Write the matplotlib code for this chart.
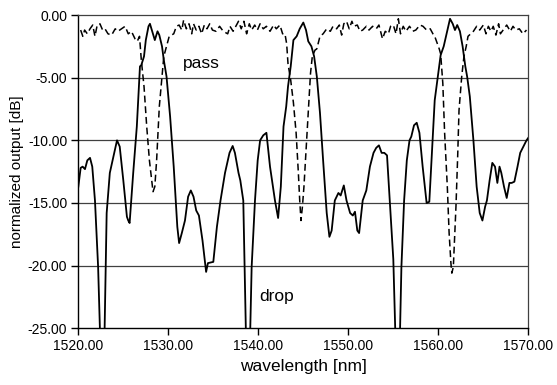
import matplotlib
matplotlib.use("Agg")
import numpy as np
from matplotlib import pyplot as plt
from matplotlib.ticker import FormatStrFormatter

# drop port (solid)
drop_wl = [1520.0, 1520.26, 1520.48, 1520.74, 1521.0, 1521.3, 1521.55, 1521.85, 1522.2, 1522.6,
           1522.8, 1523.15, 1523.5, 1523.9, 1524.3, 1524.6, 1525.0, 1525.4, 1525.55, 1525.7,
           1526.1, 1526.5, 1526.85, 1527.0, 1527.3, 1527.5, 1527.8, 1527.96, 1528.3, 1528.5,
           1528.8, 1529.0, 1529.3, 1529.5, 1529.8, 1530.2, 1530.6, 1531.0, 1531.2, 1531.5,
           1531.85, 1532.2, 1532.5, 1532.8, 1533.1, 1533.4, 1533.8, 1534.2, 1534.4, 1535.0,
           1535.4, 1535.8, 1536.3, 1536.8, 1537.15, 1537.4, 1537.8, 1538.0, 1538.33, 1538.75,
           1538.95, 1539.26, 1539.63, 1539.93, 1540.2, 1540.55, 1540.9, 1541.3, 1541.85, 1542.2,
           1542.5, 1542.8, 1543.1, 1543.3, 1543.6, 1543.9, 1544.26, 1544.6, 1545.0, 1545.3,
           1545.55, 1545.9, 1546.2, 1546.5, 1546.85, 1547.2, 1547.6, 1547.9, 1548.15, 1548.5,
           1548.9, 1549.15, 1549.5, 1549.8, 1550.2, 1550.5, 1550.74, 1551.0, 1551.2, 1551.6,
           1552.0, 1552.4, 1552.8, 1553.1, 1553.4, 1553.7, 1554.0, 1554.3, 1554.6, 1555.0,
           1555.4, 1555.6, 1555.9, 1556.2, 1556.5, 1556.8, 1557.0, 1557.3, 1557.6, 1557.9,
           1558.26, 1558.7, 1559.0, 1559.3, 1559.6, 1560.0, 1560.26, 1560.6, 1560.85, 1561.3,
           1561.6, 1561.85, 1562.1, 1562.4, 1562.7, 1563.0, 1563.2, 1563.5, 1563.9, 1564.26,
           1564.6, 1564.9, 1565.2, 1565.4, 1565.7, 1566.0, 1566.3, 1566.56, 1566.8, 1567.0,
           1567.3, 1567.6, 1567.9, 1568.15, 1568.45, 1568.8, 1569.1, 1569.45, 1569.8, 1570.0]
drop_db = [-13.7, -12.2, -12.1, -12.3, -11.6, -11.4, -12.1, -14.8, -20.1, -30.0,
           -30.0, -15.8, -12.6, -11.3, -10.0, -10.5, -13.2, -16.1, -16.4, -16.6,
           -12.6, -8.9, -4.1, -4.0, -3.3, -2.0, -0.9, -0.7, -1.5, -2.0,
           -1.3, -1.6, -2.5, -3.6, -4.9, -8.1, -12.1, -16.9, -18.2, -17.4,
           -16.4, -14.5, -14.0, -14.5, -15.6, -16.0, -18.0, -20.5, -19.8, -19.7,
           -16.9, -14.8, -12.6, -11.0, -10.45, -11.0, -12.6, -13.2, -14.8, -30.0,
           -30.0, -20.1, -14.8, -11.6, -10.0, -9.6, -9.4, -12.1, -14.8, -16.2,
           -13.7, -8.9, -7.3, -5.7, -4.1, -2.0, -1.7, -1.1, -0.6, -1.2,
           -2.1, -2.5, -3.3, -4.9, -7.8, -11.6, -15.8, -17.7, -17.2, -14.8,
           -14.2, -14.4, -13.6, -14.8, -15.8, -16.0, -15.7, -17.2, -17.4, -14.8,
           -14.0, -12.1, -11.0, -10.6, -10.4, -11.0, -11.0, -11.2, -14.8, -19.5,
           -30.0, -30.0, -20.1, -14.8, -11.6, -10.0, -9.7, -8.8, -8.6, -9.4,
           -12.1, -15.0, -14.9, -10.8, -6.8, -4.65, -3.2, -2.5, -1.7, -0.3,
           -0.7, -1.2, -0.8, -1.3, -2.5, -4.1, -4.9, -6.5, -10.0, -13.7,
           -15.8, -16.4, -15.3, -14.8, -13.2, -11.8, -12.1, -13.4, -12.1, -12.6,
           -13.7, -14.6, -13.4, -13.4, -13.3, -12.1, -11.0, -10.5, -10.0, -9.8]

# pass port (dashed)
pass_wl = [1520.26, 1520.5, 1520.7, 1521.0, 1521.3, 1521.6, 1521.85, 1522.1, 1522.4, 1522.7,
           1522.96, 1523.3, 1523.7, 1524.1, 1524.4, 1524.8, 1525.2, 1525.55, 1525.9, 1526.3,
           1526.55, 1526.8, 1527.0, 1527.3, 1527.6, 1527.9, 1528.15, 1528.3, 1528.5, 1528.7,
           1529.0, 1529.3, 1529.5, 1529.8, 1530.1, 1530.6, 1530.9, 1531.2, 1531.5, 1531.7,
           1532.0, 1532.3, 1532.6, 1532.8, 1533.1, 1533.4, 1533.7, 1534.0, 1534.3, 1534.6,
           1534.9, 1535.3, 1535.7, 1536.1, 1536.6, 1536.85, 1537.2, 1537.5, 1537.8, 1538.1,
           1538.4, 1538.7, 1539.0, 1539.26, 1539.6, 1539.9, 1540.2, 1540.55, 1540.9, 1541.3,
           1541.7, 1542.0, 1542.4, 1542.7, 1542.96, 1543.15, 1543.3, 1543.6, 1543.9, 1544.2,
           1544.45, 1544.6, 1544.74, 1544.9, 1545.07, 1545.3, 1545.55, 1545.8, 1546.0, 1546.3,
           1546.5, 1546.85, 1547.2, 1547.6, 1548.0, 1548.3, 1548.7, 1549.0, 1549.26, 1549.5,
           1549.8, 1550.1, 1550.4, 1550.6, 1551.0, 1551.3, 1551.6, 1552.0, 1552.3, 1552.7,
           1553.1, 1553.4, 1553.8, 1554.1, 1554.45, 1554.7, 1555.0, 1555.3, 1555.56, 1555.8,
           1556.1, 1556.4, 1556.8, 1557.15, 1557.5, 1557.96, 1558.3, 1558.7, 1559.1, 1559.4,
           1559.6, 1559.9, 1560.1, 1560.26, 1560.5, 1560.7, 1561.0, 1561.2, 1561.4, 1561.5,
           1561.67, 1561.8, 1561.96, 1562.15, 1562.3, 1562.6, 1562.85, 1563.1, 1563.3, 1563.6,
           1563.9, 1564.26, 1564.6, 1565.0, 1565.3, 1565.56, 1565.85, 1566.1, 1566.4, 1566.7,
           1566.9, 1567.3, 1567.6, 1568.0, 1568.3, 1568.6, 1569.0, 1569.4, 1569.8]
pass_db = [-1.2, -1.7, -1.2, -1.5, -1.1, -0.8, -1.7, -0.8, -0.7, -1.2,
           -1.1, -1.5, -1.6, -1.1, -1.3, -1.1, -0.9, -1.5, -1.3, -1.9,
           -2.1, -1.7, -3.6, -5.7, -8.9, -11.6, -13.2, -14.1, -13.7, -11.6,
           -7.3, -4.9, -3.3, -2.5, -1.7, -1.5, -0.9, -0.8, -1.2, -0.4,
           -1.1, -0.7, -1.5, -0.7, -1.2, -0.9, -1.5, -0.8, -1.1, -0.7,
           -1.2, -1.3, -0.9, -1.3, -1.5, -0.9, -1.3, -0.9, -0.5, -1.1,
           -0.5, -1.5, -0.7, -1.2, -0.8, -1.2, -0.7, -1.1, -0.9, -1.3,
           -0.8, -1.1, -0.8, -1.5, -1.5, -2.3, -3.9, -5.2, -7.0, -9.4,
           -12.6, -14.8, -16.4, -15.3, -13.7, -10.8, -7.6, -4.65, -3.3, -2.8,
           -2.7, -1.7, -1.5, -1.1, -1.3, -0.9, -1.1, -0.8, -1.6, -0.7,
           -0.5, -1.1, -0.5, -0.9, -0.8, -1.3, -1.2, -0.9, -1.2, -0.9,
           -1.1, -0.8, -1.9, -1.3, -1.5, -0.9, -0.8, -1.5, -0.3, -1.5,
           -0.9, -1.3, -0.9, -1.3, -1.2, -0.8, -0.9, -1.2, -1.1, -1.5,
           -1.7, -2.3, -2.7, -3.1, -5.45, -9.4, -13.7, -17.4, -19.8, -20.6,
           -20.1, -17.9, -15.3, -11.3, -7.6, -4.9, -3.3, -2.5, -1.7, -1.5,
           -1.3, -0.9, -1.2, -0.8, -1.5, -0.9, -1.3, -0.9, -1.6, -0.7,
           -1.5, -1.1, -0.8, -1.3, -0.9, -1.2, -1.1, -1.5, -1.2]

x_ticks = [1520, 1530, 1540, 1550, 1560, 1570]
y_ticks = [0, -5, -10, -15, -20, -25]


def plot_spectrum():
    plt.rcParams["font.family"] = ["Liberation Sans", "DejaVu Sans"]
    fig = plt.figure(figsize=(5.57, 3.85), dpi=100)
    ax = fig.add_axes([0.1406, 0.1473, 0.8079, 0.8137])

    for y in y_ticks[1:-1]:
        ax.axhline(y, color='#404040', linewidth=0.9, zorder=1)

    ax.plot(drop_wl, drop_db, color='black', linewidth=1.3, zorder=3)
    ax.plot(pass_wl, pass_db, color='black', linewidth=1.1, dashes=(4.5, 2.5), zorder=3)

    ax.text(1531.67, -3.85, 'pass', fontsize=12.5, va='center', ha='left')
    ax.text(1540.1, -22.5, 'drop', fontsize=12.5, va='center', ha='left')

    ax.set_xlim(1520, 1570)
    ax.set_ylim(-25, 0)
    ax.set_xticks(x_ticks)
    ax.set_yticks(y_ticks)
    ax.xaxis.set_major_formatter(FormatStrFormatter('%.2f'))
    ax.yaxis.set_major_formatter(FormatStrFormatter('%.2f'))
    ax.tick_params(direction='out', length=5, width=1, labelsize=10, pad=3)

    for side in ['top', 'right']:
        ax.spines[side].set_color('#404040')
        ax.spines[side].set_linewidth(0.9)
    for side in ['left', 'bottom']:
        ax.spines[side].set_color('black')
        ax.spines[side].set_linewidth(1.0)

    ax.set_xlabel('wavelength [nm]', fontsize=12.5, labelpad=4)
    ax.set_ylabel('normalized output [dB]', fontsize=11, labelpad=3)

    fig.savefig('out.png', dpi=100)


if __name__ == "__main__":
    plot_spectrum()
